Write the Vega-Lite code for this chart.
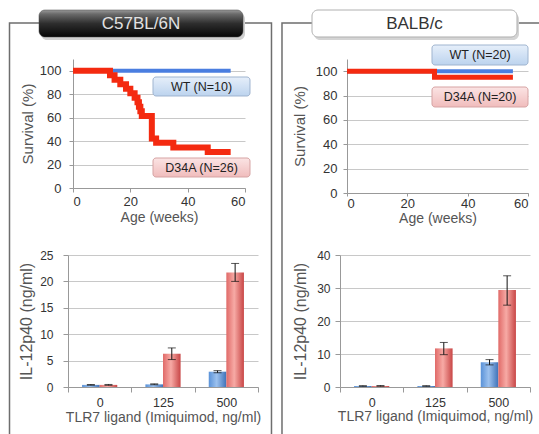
{
  "$schema": "https://vega.github.io/schema/vega-lite/v6.json",
  "background": "white",
  "autosize": {"type": "none"},
  "padding": {"left": 68, "top": 59, "right": 471, "bottom": 375},
  "bounds": "flush",
  "columns": 2,
  "spacing": {"row": 62, "column": 82},
  "datasets": {
    "survival": [
      {"strain": "C57BL/6N", "genotype": "WT", "age": 0, "survival": 100},
      {"strain": "C57BL/6N", "genotype": "WT", "age": 55, "survival": 100},
      {"strain": "C57BL/6N", "genotype": "D34A", "age": 0, "survival": 100},
      {"strain": "C57BL/6N", "genotype": "D34A", "age": 12.9, "survival": 96.2},
      {"strain": "C57BL/6N", "genotype": "D34A", "age": 14.5, "survival": 92.3},
      {"strain": "C57BL/6N", "genotype": "D34A", "age": 16.5, "survival": 88.5},
      {"strain": "C57BL/6N", "genotype": "D34A", "age": 18.5, "survival": 84.6},
      {"strain": "C57BL/6N", "genotype": "D34A", "age": 20, "survival": 80.8},
      {"strain": "C57BL/6N", "genotype": "D34A", "age": 21.5, "survival": 76.9},
      {"strain": "C57BL/6N", "genotype": "D34A", "age": 22.5, "survival": 73.1},
      {"strain": "C57BL/6N", "genotype": "D34A", "age": 23, "survival": 69.2},
      {"strain": "C57BL/6N", "genotype": "D34A", "age": 23.5, "survival": 65.4},
      {"strain": "C57BL/6N", "genotype": "D34A", "age": 24, "survival": 61.5},
      {"strain": "C57BL/6N", "genotype": "D34A", "age": 27.5, "survival": 42.3},
      {"strain": "C57BL/6N", "genotype": "D34A", "age": 29, "survival": 38.5},
      {"strain": "C57BL/6N", "genotype": "D34A", "age": 35, "survival": 34.6},
      {"strain": "C57BL/6N", "genotype": "D34A", "age": 47, "survival": 30.8},
      {"strain": "C57BL/6N", "genotype": "D34A", "age": 55, "survival": 30.8},
      {"strain": "BALB/c", "genotype": "WT", "age": 0, "survival": 100},
      {"strain": "BALB/c", "genotype": "WT", "age": 55, "survival": 100},
      {"strain": "BALB/c", "genotype": "D34A", "age": 0, "survival": 100},
      {"strain": "BALB/c", "genotype": "D34A", "age": 29, "survival": 95},
      {"strain": "BALB/c", "genotype": "D34A", "age": 55, "survival": 95}
    ],
    "cytokine": [
      {"strain": "C57BL/6N", "dose": "0", "genotype": "WT", "value": 0.4, "lo": 0.33, "hi": 0.47},
      {"strain": "C57BL/6N", "dose": "0", "genotype": "D34A", "value": 0.4, "lo": 0.32, "hi": 0.48},
      {"strain": "C57BL/6N", "dose": "125", "genotype": "WT", "value": 0.5, "lo": 0.43, "hi": 0.6},
      {"strain": "C57BL/6N", "dose": "125", "genotype": "D34A", "value": 6.3, "lo": 5.2, "hi": 7.4},
      {"strain": "C57BL/6N", "dose": "500", "genotype": "WT", "value": 2.9, "lo": 2.7, "hi": 3.1},
      {"strain": "C57BL/6N", "dose": "500", "genotype": "D34A", "value": 21.7, "lo": 20.0, "hi": 23.4},
      {"strain": "BALB/c", "dose": "0", "genotype": "WT", "value": 0.3, "lo": 0.2, "hi": 0.4},
      {"strain": "BALB/c", "dose": "0", "genotype": "D34A", "value": 0.3, "lo": 0.2, "hi": 0.45},
      {"strain": "BALB/c", "dose": "125", "genotype": "WT", "value": 0.3, "lo": 0.2, "hi": 0.4},
      {"strain": "BALB/c", "dose": "125", "genotype": "D34A", "value": 11.7, "lo": 9.8, "hi": 13.5},
      {"strain": "BALB/c", "dose": "500", "genotype": "WT", "value": 7.5, "lo": 6.7, "hi": 8.3},
      {"strain": "BALB/c", "dose": "500", "genotype": "D34A", "value": 29.4, "lo": 24.8, "hi": 33.7}
    ]
  },
  "concat": [
    {
      "width": 177,
      "height": 129,
      "layer": [
        {
          "data": {"name": "survival"},
          "transform": [{"filter": "datum.strain == 'C57BL/6N' && datum.genotype == 'WT'"}],
          "mark": {"type": "line", "interpolate": "step-after", "color": "#4a7ee0", "strokeWidth": 4},
          "encoding": {
            "x": {"field": "age", "type": "quantitative", "scale": {"domain": [0, 60], "range": [5, 177], "nice": false, "zero": false},
              "axis": {"values": [0, 20, 40, 60], "title": "Age (weeks)", "grid": false, "labelFontSize": 13, "titleFontSize": 14, "tickSize": 4, "labelPadding": 3, "titlePadding": 2}},
            "y": {"field": "survival", "type": "quantitative", "scale": {"domain": [0, 110], "nice": false},
              "axis": {"values": [0, 20, 40, 60, 80, 100], "title": "Survival (%)", "offset": -5, "grid": true, "labelFontSize": 13, "titleFontSize": 15, "tickSize": 4, "labelPadding": 8, "titlePadding": 4}}
          }
        },
        {
          "data": {"name": "survival"},
          "transform": [{"filter": "datum.strain == 'C57BL/6N' && datum.genotype == 'D34A'"}],
          "mark": {"type": "line", "interpolate": "step-after", "color": "#f42a10", "strokeWidth": 6},
          "encoding": {
            "x": {"field": "age", "type": "quantitative",
              "axis": {"values": [0, 20, 40, 60], "title": "Age (weeks)", "grid": false, "labelFontSize": 13, "titleFontSize": 14, "tickSize": 4, "labelPadding": 3, "titlePadding": 2}},
            "y": {"field": "survival", "type": "quantitative",
              "axis": {"values": [0, 20, 40, 60, 80, 100], "title": "Survival (%)", "offset": -5, "grid": true, "labelFontSize": 13, "titleFontSize": 15, "tickSize": 4, "labelPadding": 8, "titlePadding": 4}}
          }
        },
        {
          "data": {"values": [{}]},
          "mark": {"type": "rect", "clip": false, "fillOpacity": 0, "stroke": "#6e6e6e", "strokeWidth": 1.5},
          "encoding": {"x": {"datum": -22.15, "type": "quantitative", "axis": {"values": [0, 20, 40, 60], "title": "Age (weeks)"}}, "x2": {"datum": 69.24}, "y": {"datum": 140.7, "type": "quantitative", "axis": {"values": [0, 20, 40, 60, 80, 100], "title": "Survival (%)"}}, "y2": {"datum": -214.88}}
        },
        {
          "data": {"values": [{}]},
          "mark": {"type": "rect", "clip": false, "fill": "#d0d0d0", "cornerRadius": 6},
          "encoding": {"x": {"datum": -11.16, "type": "quantitative", "axis": {"values": [0, 20, 40, 60], "title": "Age (weeks)"}}, "x2": {"datum": 60.0}, "y": {"datum": 149.22, "type": "quantitative", "axis": {"values": [0, 20, 40, 60, 80, 100], "title": "Survival (%)"}}, "y2": {"datum": 126.2}}
        },
        {
          "data": {"values": [{}]},
          "mark": {"type": "rect", "clip": false, "cornerRadius": 6, "stroke": "#444", "strokeWidth": 0.5,
            "fill": {"gradient": "linear", "x1": 0, "y1": 0, "x2": 0, "y2": 1, "stops": [{"offset": 0, "color": "#9a9a9a"}, {"offset": 0.15, "color": "#6a6a6a"}, {"offset": 0.5, "color": "#2e2e2e"}, {"offset": 1, "color": "#050505"}]}},
          "encoding": {"x": {"datum": -11.86, "type": "quantitative", "axis": {"values": [0, 20, 40, 60], "title": "Age (weeks)"}}, "x2": {"datum": 59.3}, "y": {"datum": 151.78, "type": "quantitative", "axis": {"values": [0, 20, 40, 60, 80, 100], "title": "Survival (%)"}}, "y2": {"datum": 128.76}}
        },
        {
          "data": {"values": [{}]},
          "mark": {"type": "text", "clip": false, "font": "Liberation Sans", "fontSize": 17, "color": "#e2e2e2", "align": "center", "baseline": "middle"},
          "encoding": {"x": {"datum": 23.72, "type": "quantitative", "axis": {"values": [0, 20, 40, 60], "title": "Age (weeks)"}}, "y": {"datum": 139.84, "type": "quantitative", "axis": {"values": [0, 20, 40, 60, 80, 100], "title": "Survival (%)"}}, "text": {"value": "C57BL/6N"}}
        },
        {
          "data": {"values": [{}]},
          "mark": {"type": "rect", "clip": false, "cornerRadius": 3, "stroke": "#9fb4cf", "strokeWidth": 1,
            "fill": {"gradient": "linear", "x1": 0, "y1": 0, "x2": 0, "y2": 1, "stops": [{"offset": 0, "color": "#e6effa"}, {"offset": 1, "color": "#bcd3ee"}]}},
          "encoding": {"x": {"datum": 27.91, "type": "quantitative", "axis": {"values": [0, 20, 40, 60], "title": "Age (weeks)"}}, "x2": {"datum": 61.74}, "y": {"datum": 94.65, "type": "quantitative", "axis": {"values": [0, 20, 40, 60, 80, 100], "title": "Survival (%)"}}, "y2": {"datum": 78.45}}
        },
        {
          "data": {"values": [{}]},
          "mark": {"type": "text", "clip": false, "font": "Liberation Sans", "fontSize": 12.5, "color": "#222", "align": "center", "baseline": "middle"},
          "encoding": {"x": {"datum": 44.83, "type": "quantitative", "axis": {"values": [0, 20, 40, 60], "title": "Age (weeks)"}}, "y": {"datum": 86.55, "type": "quantitative", "axis": {"values": [0, 20, 40, 60, 80, 100], "title": "Survival (%)"}}, "text": {"value": "WT (N=10)"}}
        },
        {
          "data": {"values": [{}]},
          "mark": {"type": "rect", "clip": false, "cornerRadius": 3, "stroke": "#d6a3a3", "strokeWidth": 1,
            "fill": {"gradient": "linear", "x1": 0, "y1": 0, "x2": 0, "y2": 1, "stops": [{"offset": 0, "color": "#fbe4e4"}, {"offset": 1, "color": "#f0bcbc"}]}},
          "encoding": {"x": {"datum": 27.91, "type": "quantitative", "axis": {"values": [0, 20, 40, 60], "title": "Age (weeks)"}}, "x2": {"datum": 61.74}, "y": {"datum": 25.58, "type": "quantitative", "axis": {"values": [0, 20, 40, 60, 80, 100], "title": "Survival (%)"}}, "y2": {"datum": 9.38}}
        },
        {
          "data": {"values": [{}]},
          "mark": {"type": "text", "clip": false, "font": "Liberation Sans", "fontSize": 12.5, "color": "#222", "align": "center", "baseline": "middle"},
          "encoding": {"x": {"datum": 44.83, "type": "quantitative", "axis": {"values": [0, 20, 40, 60], "title": "Age (weeks)"}}, "y": {"datum": 17.48, "type": "quantitative", "axis": {"values": [0, 20, 40, 60, 80, 100], "title": "Survival (%)"}}, "text": {"value": "D34A (N=26)"}}
        }
      ]
    },
    {
      "width": 188,
      "height": 134,
      "layer": [
        {
          "data": {"name": "survival"},
          "transform": [{"filter": "datum.strain == 'BALB/c' && datum.genotype == 'WT'"}],
          "mark": {"type": "line", "interpolate": "step-after", "color": "#4a7ee0", "strokeWidth": 4},
          "encoding": {
            "x": {"field": "age", "type": "quantitative", "scale": {"domain": [0, 60], "range": [7, 188], "nice": false, "zero": false},
              "axis": {"values": [0, 20, 40, 60], "title": "Age (weeks)", "grid": false, "labelFontSize": 13, "titleFontSize": 14, "tickSize": 3, "labelPadding": 1, "titlePadding": 1}},
            "y": {"field": "survival", "type": "quantitative", "scale": {"domain": [0, 110], "nice": false},
              "axis": {"values": [0, 20, 40, 60, 80, 100], "title": "Survival (%)", "offset": -7, "grid": true, "labelFontSize": 13, "titleFontSize": 15, "tickSize": 4, "labelPadding": 6, "titlePadding": 8}}
          }
        },
        {
          "data": {"name": "survival"},
          "transform": [{"filter": "datum.strain == 'BALB/c' && datum.genotype == 'D34A'"}],
          "mark": {"type": "line", "interpolate": "step-after", "color": "#f42a10", "strokeWidth": 5},
          "encoding": {
            "x": {"field": "age", "type": "quantitative",
              "axis": {"values": [0, 20, 40, 60], "title": "Age (weeks)", "grid": false, "labelFontSize": 13, "titleFontSize": 14, "tickSize": 3, "labelPadding": 1, "titlePadding": 1}},
            "y": {"field": "survival", "type": "quantitative",
              "axis": {"values": [0, 20, 40, 60, 80, 100], "title": "Survival (%)", "offset": -7, "grid": true, "labelFontSize": 13, "titleFontSize": 15, "tickSize": 4, "labelPadding": 6, "titlePadding": 8}}
          }
        },
        {
          "data": {"values": [{}]},
          "mark": {"type": "rect", "clip": false, "fillOpacity": 0, "stroke": "#6e6e6e", "strokeWidth": 1.5},
          "encoding": {"x": {"datum": -21.55, "type": "quantitative", "axis": {"values": [0, 20, 40, 60], "title": "Age (weeks)"}}, "x2": {"datum": 65.64}, "y": {"datum": 139.55, "type": "quantitative", "axis": {"values": [0, 20, 40, 60, 80, 100], "title": "Survival (%)"}}, "y2": {"datum": -202.76}}
        },
        {
          "data": {"values": [{}]},
          "mark": {"type": "rect", "clip": false, "fill": "#d4d4d4", "cornerRadius": 6},
          "encoding": {"x": {"datum": -10.94, "type": "quantitative", "axis": {"values": [0, 20, 40, 60], "title": "Age (weeks)"}}, "x2": {"datum": 57.01}, "y": {"datum": 147.76, "type": "quantitative", "axis": {"values": [0, 20, 40, 60, 80, 100], "title": "Survival (%)"}}, "y2": {"datum": 125.6}}
        },
        {
          "data": {"values": [{}]},
          "mark": {"type": "rect", "clip": false, "cornerRadius": 6, "stroke": "#b0b0b0", "strokeWidth": 1, "fill": "#ffffff"},
          "encoding": {"x": {"datum": -11.6, "type": "quantitative", "axis": {"values": [0, 20, 40, 60], "title": "Age (weeks)"}}, "x2": {"datum": 56.35}, "y": {"datum": 150.22, "type": "quantitative", "axis": {"values": [0, 20, 40, 60, 80, 100], "title": "Survival (%)"}}, "y2": {"datum": 128.06}}
        },
        {
          "data": {"values": [{}]},
          "mark": {"type": "text", "clip": false, "font": "Liberation Sans", "fontSize": 17, "color": "#333", "align": "center", "baseline": "middle"},
          "encoding": {"x": {"datum": 22.38, "type": "quantitative", "axis": {"values": [0, 20, 40, 60], "title": "Age (weeks)"}}, "y": {"datum": 138.73, "type": "quantitative", "axis": {"values": [0, 20, 40, 60, 80, 100], "title": "Survival (%)"}}, "text": {"value": "BALB/c"}}
        },
        {
          "data": {"values": [{}]},
          "mark": {"type": "rect", "clip": false, "cornerRadius": 3, "stroke": "#9fb4cf", "strokeWidth": 1,
            "fill": {"gradient": "linear", "x1": 0, "y1": 0, "x2": 0, "y2": 1, "stops": [{"offset": 0, "color": "#e6effa"}, {"offset": 1, "color": "#bcd3ee"}]}},
          "encoding": {"x": {"datum": 28.18, "type": "quantitative", "axis": {"values": [0, 20, 40, 60], "title": "Age (weeks)"}}, "x2": {"datum": 60.0}, "y": {"datum": 121.49, "type": "quantitative", "axis": {"values": [0, 20, 40, 60, 80, 100], "title": "Survival (%)"}}, "y2": {"datum": 105.07}}
        },
        {
          "data": {"values": [{}]},
          "mark": {"type": "text", "clip": false, "font": "Liberation Sans", "fontSize": 12.5, "color": "#222", "align": "center", "baseline": "middle"},
          "encoding": {"x": {"datum": 44.09, "type": "quantitative", "axis": {"values": [0, 20, 40, 60], "title": "Age (weeks)"}}, "y": {"datum": 113.28, "type": "quantitative", "axis": {"values": [0, 20, 40, 60, 80, 100], "title": "Survival (%)"}}, "text": {"value": "WT (N=20)"}}
        },
        {
          "data": {"values": [{}]},
          "mark": {"type": "rect", "clip": false, "cornerRadius": 3, "stroke": "#d6a3a3", "strokeWidth": 1,
            "fill": {"gradient": "linear", "x1": 0, "y1": 0, "x2": 0, "y2": 1, "stops": [{"offset": 0, "color": "#fbe4e4"}, {"offset": 1, "color": "#f0bcbc"}]}},
          "encoding": {"x": {"datum": 28.18, "type": "quantitative", "axis": {"values": [0, 20, 40, 60], "title": "Age (weeks)"}}, "x2": {"datum": 60.0}, "y": {"datum": 87.01, "type": "quantitative", "axis": {"values": [0, 20, 40, 60, 80, 100], "title": "Survival (%)"}}, "y2": {"datum": 70.6}}
        },
        {
          "data": {"values": [{}]},
          "mark": {"type": "text", "clip": false, "font": "Liberation Sans", "fontSize": 12.5, "color": "#222", "align": "center", "baseline": "middle"},
          "encoding": {"x": {"datum": 44.09, "type": "quantitative", "axis": {"values": [0, 20, 40, 60], "title": "Age (weeks)"}}, "y": {"datum": 78.81, "type": "quantitative", "axis": {"values": [0, 20, 40, 60, 80, 100], "title": "Survival (%)"}}, "text": {"value": "D34A (N=20)"}}
        }
      ]
    },
    {
      "width": 190,
      "height": 132,
      "data": {"name": "cytokine"},
      "transform": [{"filter": "datum.strain == 'C57BL/6N'"}],
      "encoding": {
        "x": {"field": "dose", "type": "nominal", "sort": ["0", "125", "500"], "scale": {"paddingInner": 0, "paddingOuter": 0},
          "axis": {"title": "TLR7 ligand (Imiquimod, ng/ml)", "labelAngle": 0, "tickBand": "extent", "labelFontSize": 12.5, "titleFontSize": 14, "tickSize": 5, "labelPadding": 4, "titlePadding": 2}},
        "xOffset": {"field": "genotype", "type": "nominal", "sort": ["WT", "D34A"], "scale": {"paddingInner": 0, "paddingOuter": 0.8}}
      },
      "layer": [
        {
          "transform": [{"filter": "datum.genotype == 'WT'"}],
          "mark": {"type": "bar", "fill": {"gradient": "linear", "x1": 0, "y1": 0, "x2": 1, "y2": 0, "stops": [{"offset": 0, "color": "#5a92d8"}, {"offset": 0.45, "color": "#9cc1ee"}, {"offset": 1, "color": "#3f72b8"}]}},
          "encoding": {
            "y": {"field": "value", "type": "quantitative", "scale": {"domain": [0, 25], "nice": false},
              "axis": {"values": [0, 5, 10, 15, 20, 25], "title": "IL-12p40 (ng/ml)", "grid": true, "labelFontSize": 12, "titleFontSize": 16, "tickSize": 5, "labelPadding": 10, "titlePadding": 5}}
          }
        },
        {
          "transform": [{"filter": "datum.genotype == 'D34A'"}],
          "mark": {"type": "bar", "fill": {"gradient": "linear", "x1": 0, "y1": 0, "x2": 1, "y2": 0, "stops": [{"offset": 0, "color": "#e06a68"}, {"offset": 0.45, "color": "#f7aaa5"}, {"offset": 1, "color": "#c84646"}]}},
          "encoding": {"y": {"field": "value", "type": "quantitative", "axis": {"values": [0, 5, 10, 15, 20, 25], "title": "IL-12p40 (ng/ml)"}}}
        },
        {
          "mark": {"type": "rule", "color": "#111", "strokeWidth": 1},
          "encoding": {"y": {"field": "lo", "type": "quantitative", "axis": {"values": [0, 5, 10, 15, 20, 25], "title": "IL-12p40 (ng/ml)"}}, "y2": {"field": "hi"}}
        },
        {
          "mark": {"type": "tick", "color": "#111", "thickness": 1, "size": 8},
          "encoding": {"y": {"field": "lo", "type": "quantitative", "axis": {"values": [0, 5, 10, 15, 20, 25], "title": "IL-12p40 (ng/ml)"}}}
        },
        {
          "mark": {"type": "tick", "color": "#111", "thickness": 1, "size": 8},
          "encoding": {"y": {"field": "hi", "type": "quantitative", "axis": {"values": [0, 5, 10, 15, 20, 25], "title": "IL-12p40 (ng/ml)"}}}
        }
      ]
    },
    {
      "width": 190,
      "height": 132,
      "data": {"name": "cytokine"},
      "transform": [{"filter": "datum.strain == 'BALB/c'"}],
      "encoding": {
        "x": {"field": "dose", "type": "nominal", "sort": ["0", "125", "500"], "scale": {"paddingInner": 0, "paddingOuter": 0},
          "axis": {"title": "TLR7 ligand (Imiquimod, ng/ml)", "labelAngle": 0, "tickBand": "extent", "labelFontSize": 12.5, "titleFontSize": 14, "tickSize": 5, "labelPadding": 4, "titlePadding": 1}},
        "xOffset": {"field": "genotype", "type": "nominal", "sort": ["WT", "D34A"], "scale": {"paddingInner": 0, "paddingOuter": 0.75}}
      },
      "layer": [
        {
          "transform": [{"filter": "datum.genotype == 'WT'"}],
          "mark": {"type": "bar", "fill": {"gradient": "linear", "x1": 0, "y1": 0, "x2": 1, "y2": 0, "stops": [{"offset": 0, "color": "#5a92d8"}, {"offset": 0.45, "color": "#9cc1ee"}, {"offset": 1, "color": "#3f72b8"}]}},
          "encoding": {
            "y": {"field": "value", "type": "quantitative", "scale": {"domain": [0, 40], "nice": false},
              "axis": {"values": [0, 10, 20, 30, 40], "title": "IL-12p40 (ng/ml)", "grid": true, "labelFontSize": 12, "titleFontSize": 16, "tickSize": 5, "labelPadding": 5, "titlePadding": 8}}
          }
        },
        {
          "transform": [{"filter": "datum.genotype == 'D34A'"}],
          "mark": {"type": "bar", "fill": {"gradient": "linear", "x1": 0, "y1": 0, "x2": 1, "y2": 0, "stops": [{"offset": 0, "color": "#e06a68"}, {"offset": 0.45, "color": "#f7aaa5"}, {"offset": 1, "color": "#c84646"}]}},
          "encoding": {"y": {"field": "value", "type": "quantitative", "axis": {"values": [0, 10, 20, 30, 40], "title": "IL-12p40 (ng/ml)"}}}
        },
        {
          "mark": {"type": "rule", "color": "#111", "strokeWidth": 1},
          "encoding": {"y": {"field": "lo", "type": "quantitative", "axis": {"values": [0, 10, 20, 30, 40], "title": "IL-12p40 (ng/ml)"}}, "y2": {"field": "hi"}}
        },
        {
          "mark": {"type": "tick", "color": "#111", "thickness": 1, "size": 8},
          "encoding": {"y": {"field": "lo", "type": "quantitative", "axis": {"values": [0, 10, 20, 30, 40], "title": "IL-12p40 (ng/ml)"}}}
        },
        {
          "mark": {"type": "tick", "color": "#111", "thickness": 1, "size": 8},
          "encoding": {"y": {"field": "hi", "type": "quantitative", "axis": {"values": [0, 10, 20, 30, 40], "title": "IL-12p40 (ng/ml)"}}}
        }
      ]
    }
  ],
  "config": {
    "view": {"stroke": null},
    "axis": {
      "labelFont": "Liberation Sans",
      "titleFont": "Liberation Sans",
      "labelColor": "#333",
      "titleColor": "#555",
      "titleFontWeight": "normal",
      "domainColor": "#999",
      "tickColor": "#999",
      "gridColor": "#c8c8c8",
      "labelOverlap": false
    }
  }
}
